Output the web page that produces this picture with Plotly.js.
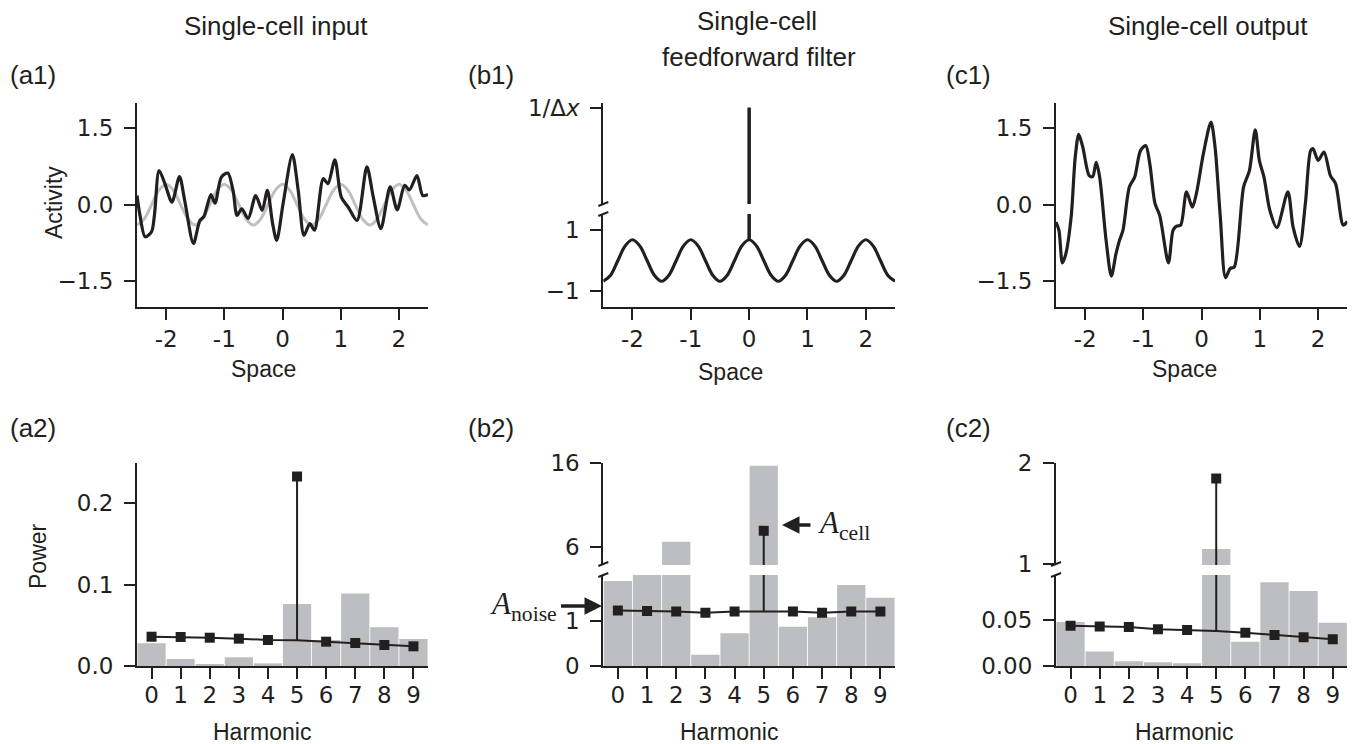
<!DOCTYPE html>
<html>
<head>
<meta charset="utf-8">
<script src="https://cdn.plot.ly/plotly-3.0.1.min.js"></script>
<style>
  html, body { margin: 0; padding: 0; background: #fff; }
  #fig { width: 1359px; height: 744px; }
</style>
</head>
<body>
<div id="fig"></div>
<script>
// ---------- data ----------
// (a1) single-cell input: noisy activity and its periodic component
const a1X = [-2.5, -2.45, -2.36, -2.25, -2.2, -2.12, -2.02, -1.9, -1.77, -1.68, -1.53, -1.42, -1.35, -1.23, -1.16,
             -1.05, -0.94, -0.85, -0.78, -0.70, -0.59, -0.46, -0.35, -0.26, -0.17, -0.10, 0.01, 0.17, 0.27, 0.37,
             0.47, 0.55, 0.70, 0.78, 0.90, 1.01, 1.13, 1.28, 1.45, 1.56, 1.69, 1.85, 1.97, 2.10, 2.18, 2.31, 2.41, 2.5];
const a1Y = [0.18, -0.2, -0.63, -0.53, -0.2, 0.67, 0.41, 0.05, 0.55, 0.08, -0.76, -0.31, -0.23, 0.2, 0.03,
             0.54, 0.62, 0.28, -0.21, -0.08, -0.27, 0.18, -0.11, 0.28, -0.37, -0.70, 0.02, 0.98, 0.28, -0.60,
             -0.37, -0.5, 0.51, 0.41, 0.88, 0.15, -0.05, -0.31, 0.74, 0.15, -0.47, 0.35, -0.10, 0.38, 0.29, 0.57, 0.18, 0.20];

// positions sampled every 1/8 of a unit from -2.5 to 2.5
const spaceGrid = [-2.5, -2.375, -2.25, -2.125, -2, -1.875, -1.75, -1.625, -1.5, -1.375, -1.25, -1.125, -1,
                   -0.875, -0.75, -0.625, -0.5, -0.375, -0.25, -0.125, 0, 0.125, 0.25, 0.375, 0.5, 0.625, 0.75,
                   0.875, 1, 1.125, 1.25, 1.375, 1.5, 1.625, 1.75, 1.875, 2, 2.125, 2.25, 2.375, 2.5];
const a1Periodic = [-0.4, -0.28, 0, 0.28, 0.4, 0.28, 0, -0.28, -0.4, -0.28, 0, 0.28, 0.4, 0.28, 0, -0.28, -0.4,
                    -0.28, 0, 0.28, 0.4, 0.28, 0, -0.28, -0.4, -0.28, 0, 0.28, 0.4, 0.28, 0, -0.28, -0.4, -0.28,
                    0, 0.28, 0.4, 0.28, 0, -0.28, -0.4];

// (b1) feedforward filter: periodic part plus a spike of height 1/Δx at zero (Δx = 0.01)
const b1Filter = [-0.68, -0.48, 0, 0.48, 0.68, 0.48, 0, -0.48, -0.68, -0.48, 0, 0.48, 0.68, 0.48, 0, -0.48, -0.68,
                  -0.48, 0, 0.48, 0.68, 0.48, 0, -0.48, -0.68, -0.48, 0, 0.48, 0.68, 0.48, 0, -0.48, -0.68, -0.48,
                  0, 0.48, 0.68, 0.48, 0, -0.48, -0.68];
const b1SpikeX = [0, 0];
const b1SpikeY = [0.68, 100];

// (c1) single-cell output
const c1X = [-2.5, -2.45, -2.39, -2.33, -2.24, -2.17, -2.11, -2.04, -1.93, -1.87, -1.81, -1.75, -1.64, -1.55, -1.47,
             -1.41, -1.35, -1.24, -1.15, -1.05, -0.96, -0.89, -0.80, -0.72, -0.57, -0.49, -0.43, -0.36, -0.26,
             -0.16, -0.09, 0.03, 0.16, 0.23, 0.32, 0.41, 0.49, 0.56, 0.72, 0.82, 0.92, 0.99, 1.07, 1.17, 1.29,
             1.48, 1.57, 1.68, 1.78, 1.87, 1.91, 2.0, 2.10, 2.21, 2.30, 2.43, 2.5];
const c1Y = [-0.34, -0.5, -1.14, -0.96, -0.24, 0.93, 1.38, 1.13, 0.57, 0.55, 0.83, 0.54, -0.70, -1.40, -0.96,
             -0.70, -0.50, 0.35, 0.54, 1.06, 1.16, 0.80, 0.02, -0.21, -1.14, -0.50, -0.42, -0.40, 0.25,
             -0.05, 0.22, 1.0, 1.62, 1.13, -0.24, -1.43, -1.25, -1.22, 0.35, 0.67, 1.47, 0.87, 0.54, -0.11, -0.45,
             0.25, -0.44, -0.82, 0.02, 1.06, 1.10, 0.87, 1.03, 0.57, 0.41, -0.40, -0.33];

const spaceTicks = [-2, -1, 0, 1, 2];
const spaceTickText = ['-2', '-1', '0', '1', '2'];

// (a2–c2) power per harmonic, noise floor estimate, and the harmonic carrying the grid signal
const harmonics = [0, 1, 2, 3, 4, 5, 6, 7, 8, 9];
const peakHarmonic = 5;

const a2Power = [0.028, 0.0086, 0.0025, 0.0107, 0.0033, 0.0762, 0.032, 0.0893, 0.0475, 0.0332];
const a2Noise = [0.036, 0.0357, 0.0348, 0.0336, 0.032, 0.0316, 0.0299, 0.0283, 0.0258, 0.0242];
const a2Peak = 0.233;

const b2Power = [1.87, 2.6, 6.6, 0.25, 0.72, 15.7, 0.86, 1.07, 1.78, 1.5];
const b2Noise = [1.22, 1.21, 1.2, 1.17, 1.2, 1.2, 1.2, 1.17, 1.2, 1.2];
const b2Peak = 7.9;

const c2Power = [0.0478, 0.0159, 0.0051, 0.004, 0.0029, 1.15, 0.0264, 0.091, 0.0815, 0.0471];
const c2Noise = [0.0438, 0.0431, 0.0424, 0.0399, 0.0391, 0.038, 0.0362, 0.0337, 0.0312, 0.029];
const c2Peak = 1.85;

// ---------- styling ----------
const W = 1359, H = 744;
const INK = '#231f20';
const BAR = '#bdbec1';
const LIGHT = '#c0c0c0';
const px = x => x / W;
const py = y => 1 - y / H;

const tickFont = { family: 'DejaVu Sans', size: 23, color: INK };
const labelFont = { family: 'Liberation Sans, Arial', size: 23, color: INK };
const titleFont = { family: 'Liberation Sans, Arial', size: 26, color: INK };
const mathFont = { family: 'Liberation Serif, Times New Roman', size: 31, color: INK };

function axis(extra) {
  return Object.assign({
    showline: true, linewidth: 2, linecolor: INK,
    ticks: 'outside', ticklen: 11, tickwidth: 2, tickcolor: INK,
    showgrid: false, zeroline: false, tickfont: tickFont,
    tickmode: 'array', fixedrange: true, ticklabelstandoff: 6
  }, extra);
}

// column x-domains and row y-domains (paper fractions)
const colA = [px(137), px(428)];
const colB = [px(603.3), px(895)];
const colC = [px(1056), px(1347.3)];
const rowTop = [py(306.7), py(102.7)];
const rowTopLow = [py(306.7), py(214)];
const rowTopHigh = [py(204), py(103.3)];
const rowBot = [py(666), py(462.7)];
const rowBotLow = [py(666), py(575)];
const rowBotHigh = [py(565), py(462.7)];

// ---------- traces ----------
const traces = [];

// (a1)
traces.push({ x: spaceGrid, y: a1Periodic, mode: 'lines', line: { color: LIGHT, width: 3, shape: 'spline' }, xaxis: 'x', yaxis: 'y' });
traces.push({ x: a1X, y: a1Y, mode: 'lines', line: { color: INK, width: 3.2, shape: 'spline', smoothing: 0.8 }, xaxis: 'x', yaxis: 'y' });

// (b1) on both halves of the broken axis
['y2', 'y3'].forEach(ya => {
  traces.push({ x: spaceGrid, y: b1Filter, mode: 'lines', line: { color: INK, width: 3.2, shape: 'spline' }, xaxis: 'x2', yaxis: ya });
  traces.push({ x: b1SpikeX, y: b1SpikeY, mode: 'lines', line: { color: INK, width: 3.5 }, xaxis: 'x2', yaxis: ya });
});

// (c1)
traces.push({ x: c1X, y: c1Y, mode: 'lines', line: { color: INK, width: 3.2, shape: 'spline', smoothing: 0.8 }, xaxis: 'x3', yaxis: 'y4' });

// power spectra
function spectrum(xa, yaxes, power, noise, peak) {
  const mx = harmonics.filter(h => h !== peakHarmonic);
  const my = noise.filter((v, i) => harmonics[i] !== peakHarmonic);
  const floorAtPeak = noise[harmonics.indexOf(peakHarmonic)];
  const sq = { symbol: 'square', size: 10, color: INK, line: { width: 0 } };
  yaxes.forEach(ya => {
    traces.push({ type: 'bar', x: harmonics, y: power, width: 0.97, marker: { color: BAR, line: { width: 0 } }, xaxis: xa, yaxis: ya });
    traces.push({ x: harmonics, y: noise, mode: 'lines', line: { color: INK, width: 2 }, xaxis: xa, yaxis: ya });
    traces.push({ x: mx, y: my, mode: 'markers', marker: sq, xaxis: xa, yaxis: ya });
    traces.push({ x: [peakHarmonic, peakHarmonic], y: [floorAtPeak, peak], mode: 'lines',
                  line: { color: INK, width: 2 }, xaxis: xa, yaxis: ya });
    traces.push({ x: [peakHarmonic], y: [peak], mode: 'markers', marker: sq, xaxis: xa, yaxis: ya });
  });
}
spectrum('x4', ['y5'], a2Power, a2Noise, a2Peak);
spectrum('x5', ['y6', 'y7'], b2Power, b2Noise, b2Peak);
spectrum('x6', ['y8', 'y9'], c2Power, c2Noise, c2Peak);

// ---------- axes ----------
const spaceAxis = d => axis({ domain: d, range: [-2.5, 2.5], tickvals: spaceTicks, ticktext: spaceTickText, ticklabelstandoff: 0 });
const harmAxis = d => axis({ domain: d, range: [-0.5, 9.5], tickvals: harmonics, ticktext: harmonics.map(String), ticklabelstandoff: -4 });

const layout = {
  width: W, height: H,
  margin: { l: 0, r: 0, t: 0, b: 0 },
  paper_bgcolor: '#fff', plot_bgcolor: 'rgba(0,0,0,0)',
  showlegend: false, barmode: 'overlay',
  xaxis: Object.assign(spaceAxis(colA), { anchor: 'y' }),
  yaxis: axis({ domain: rowTop, anchor: 'x', range: [-2, 2], tickvals: [-1.5, 0, 1.5], ticktext: ['−1.5', '0.0', '1.5'] }),
  xaxis2: Object.assign(spaceAxis(colB), { anchor: 'y2' }),
  yaxis2: axis({ domain: rowTopLow, anchor: 'x2', range: [-1.515, 1.525], tickvals: [-1, 1], ticktext: ['−1', '1'] }),
  yaxis3: axis({ domain: rowTopHigh, anchor: 'x2', range: [20, 103.5], tickvals: [100], ticktext: ['1/Δ<i>x</i>'] }),
  xaxis3: Object.assign(spaceAxis(colC), { anchor: 'y4' }),
  yaxis4: axis({ domain: rowTop, anchor: 'x3', range: [-2, 2], tickvals: [-1.5, 0, 1.5], ticktext: ['−1.5', '0.0', '1.5'] }),
  xaxis4: Object.assign(harmAxis(colA), { anchor: 'y5' }),
  yaxis5: axis({ domain: rowBot, anchor: 'x4', range: [0, 0.25], tickvals: [0, 0.1, 0.2], ticktext: ['0.0', '0.1', '0.2'] }),
  xaxis5: Object.assign(harmAxis(colB), { anchor: 'y6' }),
  yaxis6: axis({ domain: rowBotLow, anchor: 'x5', range: [0, 2], tickvals: [0, 1], ticktext: ['0', '1'] }),
  yaxis7: axis({ domain: rowBotHigh, anchor: 'x5', range: [3.8, 16.07], tickvals: [6, 16], ticktext: ['6', '16'] }),
  xaxis6: Object.assign(harmAxis(colC), { anchor: 'y8' }),
  yaxis8: axis({ domain: rowBotLow, anchor: 'x6', range: [0, 0.099], tickvals: [0, 0.05], ticktext: ['0.00', '0.05'] }),
  yaxis9: axis({ domain: rowBotHigh, anchor: 'x6', range: [0.99, 2.006], tickvals: [1, 2], ticktext: ['1', '2'] }),
  annotations: [],
  shapes: []
};

// ---------- text ----------
function text(t, x, y, font, extra) {
  layout.annotations.push(Object.assign({
    text: t, x: px(x), y: py(y), xref: 'paper', yref: 'paper',
    showarrow: false, xanchor: 'center', yanchor: 'middle', font: font
  }, extra || {}));
}
// column titles
text('Single-cell input', 276, 26, titleFont);
text('Single-cell', 757, 21, titleFont);
text('feedforward filter', 759, 57, titleFont);
text('Single-cell output', 1208, 26, titleFont);
// panel tags
[['(a1)', 8, 75], ['(b1)', 466, 75], ['(c1)', 944, 75], ['(a2)', 8, 428], ['(b2)', 466, 428], ['(c2)', 944, 428]]
  .forEach(([t, x, y]) => text(t, x, y, titleFont, { xanchor: 'left' }));
// axis titles
text('Activity', 54, 203, labelFont, { textangle: -90 });
text('Power', 38, 556, labelFont, { textangle: -90 });
text('Space', 263, 369, labelFont);
text('Space', 730, 372, labelFont);
text('Space', 1184, 369, labelFont);
text('Harmonic', 262, 732, labelFont);
text('Harmonic', 729, 732, labelFont);
text('Harmonic', 1184, 732, labelFont);

// amplitude labels, each with an arrow from the label to its level
const arrowStyle = { showarrow: true, arrowhead: 2, arrowsize: 1, arrowwidth: 3.5, arrowcolor: INK,
                     xref: 'paper', yref: 'paper', ay: 0, font: mathFont };
layout.annotations.push(Object.assign({ text: '<i>A</i><sub>noise</sub>', x: px(602), y: py(606), ax: -79, startstandoff: 3 }, arrowStyle));
layout.annotations.push(Object.assign({ text: '<i>A</i><sub>cell</sub>', x: px(782), y: py(525), ax: 62, startstandoff: 6 }, arrowStyle));

// ---------- broken-axis marks ----------
function breakMark(x, y) {
  layout.shapes.push({ type: 'line', xref: 'paper', yref: 'paper',
    x0: px(x - 5), y0: py(y + 2), x1: px(x + 5), y1: py(y - 2), line: { color: INK, width: 2 } });
}
breakMark(603.3, 204); breakMark(603.3, 214);
breakMark(603.3, 564); breakMark(603.3, 575);
breakMark(1056, 564); breakMark(1056, 575);

Plotly.newPlot('fig', traces, layout, { displayModeBar: false, staticPlot: true });
</script>
</body>
</html>
